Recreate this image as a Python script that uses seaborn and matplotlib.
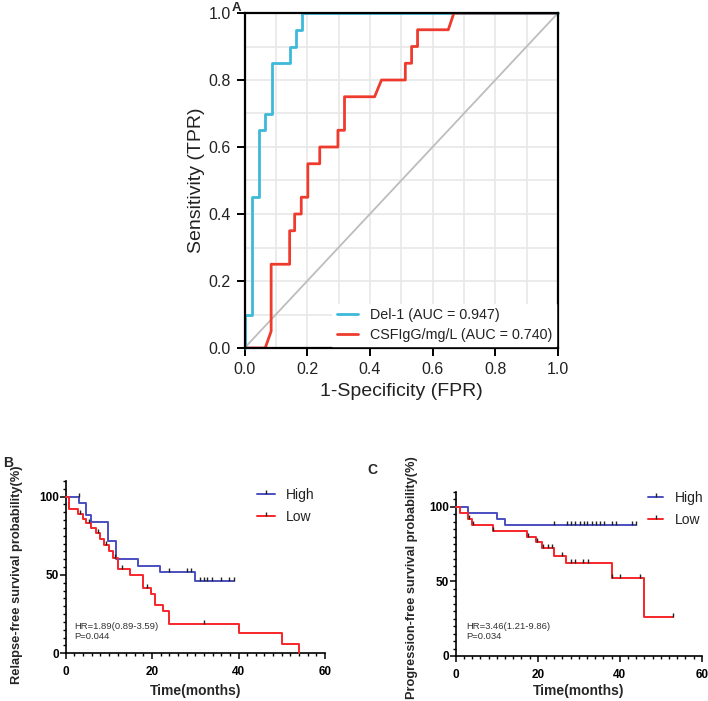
import numpy as np
import pandas as pd
import matplotlib
matplotlib.use("Agg")
import matplotlib.pyplot as plt
import seaborn as sns
from matplotlib.lines import Line2D
from matplotlib.ticker import MultipleLocator

sns.set_theme(style="white")
plt.rcParams['font.family'] = ['Liberation Sans', 'DejaVu Sans']

# ---------------- data ----------------
# Panel A: ROC curves
del1_fpr = [0, 0, 0.025, 0.025, 0.045, 0.045, 0.065, 0.065, 0.087, 0.087, 0.145, 0.145, 0.163, 0.163, 0.182, 0.182, 1.0]
del1_tpr = [0, 0.10, 0.10, 0.45, 0.45, 0.65, 0.65, 0.70, 0.70, 0.85, 0.85, 0.90, 0.90, 0.95, 0.95, 1.0, 1.0]
csf_fpr = [0, 0.066, 0.085, 0.085, 0.144, 0.144, 0.160, 0.160, 0.181, 0.181, 0.202, 0.202, 0.240, 0.240,
           0.298, 0.298, 0.319, 0.319, 0.415, 0.437, 0.513, 0.513, 0.533, 0.533, 0.552, 0.552, 0.650, 0.668, 1.0]
csf_tpr = [0, 0, 0.05, 0.25, 0.25, 0.35, 0.35, 0.40, 0.40, 0.45, 0.45, 0.55, 0.55, 0.60,
           0.60, 0.65, 0.65, 0.75, 0.75, 0.80, 0.80, 0.85, 0.85, 0.90, 0.90, 0.95, 0.95, 1.0, 1.0]
roc_labels = ["Del-1 (AUC = 0.947)", "CSFIgG/mg/L (AUC = 0.740)"]

# Panel B: relapse-free survival
b_high_t = [3.1, 4.8, 5.8, 9.9, 11.7, 16.8, 21.9, 30.0]
b_high_s = [96, 88, 84, 72, 60, 56, 52, 46]
b_high_end = 39.0
b_high_cens = [3.0, 24.0, 28.0, 29.0, 31.0, 32.0, 32.8, 33.8, 36.0, 37.9, 39.0]
b_low_t = [0.8, 2.9, 3.9, 4.8, 5.8, 6.9, 7.9, 8.9, 10.0, 11.0, 12.0, 14.9, 17.8, 19.8, 20.6, 22.6, 23.8, 40.0, 50.0, 54.0]
b_low_s = [92, 89, 86, 83, 80, 77, 73, 69, 65, 61, 54, 50, 42, 38, 31, 27, 19, 13, 6, 0]
b_low_end = 54.0
b_low_cens = [3.4, 5.3, 7.4, 9.4, 11.4, 13.0, 18.8, 32.0]
b_stats = ["HR=1.89(0.89-3.59)", "P=0.044"]

# Panel C: progression-free survival
c_high_t = [3.1, 10.0, 12.0]
c_high_s = [96, 92, 88]
c_high_end = 44.0
c_high_cens = [24.0, 27.1, 28.1, 29.1, 30.2, 31.2, 32.1, 33.2, 34.2, 35.2, 36.2, 38.1, 39.1, 43.1, 44.0]
c_low_t = [1.0, 3.0, 4.0, 9.0, 17.5, 19.7, 21.1, 24.0, 26.9, 38.0, 46.0]
c_low_s = [96, 92, 88, 84, 80, 76, 72, 67, 62, 52, 26]
c_low_end = 53.1
c_low_cens = [3.2, 4.2, 9.2, 17.6, 19.8, 21.2, 22.4, 23.5, 26.0, 28.0, 29.1, 31.1, 32.3, 38.1, 40.1, 45.0, 53.1]
c_stats = ["HR=3.46(1.21-9.86)", "P=0.034"]

group_labels = ["High", "Low"]

# ---------------- styling ----------------
W, H = 708, 701
CYAN = "#3DB9D9"
RED_A = "#EE3B2E"
BLUE = "#4A4FC0"
RED = "#F7262A"
TXT = "#222222"


def rect(x0, y0, x1, y1):
    return [x0 / W, 1 - y1 / H, (x1 - x0) / W, (y1 - y0) / H]


fig = plt.figure(figsize=(W / 100, H / 100), dpi=100)

# ---------------- Panel A ----------------
axA = fig.add_axes(rect(244.5, 13, 558, 348))
axA.set_xlim(0, 1)
axA.set_ylim(0, 1)
axA.plot([0, 1], [0, 1], color="#BDBDBD", lw=1.3, zorder=1.5)
sns.lineplot(x=del1_fpr, y=del1_tpr, sort=False, estimator=None, color=CYAN, lw=2.0,
             label=roc_labels[0], ax=axA, clip_on=False, zorder=3)
sns.lineplot(x=csf_fpr, y=csf_tpr, sort=False, estimator=None, color=RED_A, lw=2.0,
             label=roc_labels[1], ax=axA, zorder=3)
axA.xaxis.set_major_locator(MultipleLocator(0.2))
axA.yaxis.set_major_locator(MultipleLocator(0.2))
axA.xaxis.set_minor_locator(MultipleLocator(0.1))
axA.yaxis.set_minor_locator(MultipleLocator(0.1))
axA.grid(True, which="both", color="#E8E8E8", lw=1.2)
axA.set_axisbelow(True)
axA.xaxis.set_major_formatter(matplotlib.ticker.FormatStrFormatter("%.1f"))
axA.yaxis.set_major_formatter(matplotlib.ticker.FormatStrFormatter("%.1f"))
for sp in axA.spines.values():
    sp.set_visible(True)
    sp.set_color("black")
    sp.set_linewidth(1.6)
    sp.set_zorder(4)
axA.tick_params(axis="both", which="major", direction="out", length=5.5, width=1.4,
                labelsize=11.5, labelcolor=TXT, color="black", pad=4.5, bottom=True, left=True)
axA.tick_params(axis="both", which="minor", length=0)
axA.set_xlabel("1-Specificity (FPR)", fontsize=14, color=TXT)
axA.set_ylabel("Sensitivity (TPR)", fontsize=14, color=TXT)
axA.xaxis.set_label_coords(0.5, -0.105)
axA.yaxis.set_label_coords(-0.125, 0.5)
leg = axA.legend(loc="lower right", fontsize=10.3, frameon=True, facecolor="white", edgecolor="white",
                 framealpha=1, handlelength=1.5, handletextpad=0.8, borderaxespad=0.12,
                 borderpad=0.3, labelspacing=0.42, fancybox=False)
for t in leg.get_texts():
    t.set_color(TXT)
fig.text(236 / W, 1 - 8 / H, "A", fontsize=9.5, fontweight="bold", ha="center", va="center")


# ---------------- KM helper ----------------
def km_panel(ax, groups, stats, ylabel, ylab_size, stat_xy, leg_anchor, leg_hl, leg_pad):
    for (t_ev, s_ev, t_end, cens, color, lab) in groups:
        tt = [0.0] + list(t_ev)
        ss = [100.0] + list(s_ev)
        if t_end > tt[-1]:
            tt.append(t_end)
            ss.append(ss[-1])
        sns.lineplot(x=tt, y=ss, drawstyle="steps-post", sort=False, estimator=None,
                     color=color, lw=1.4, ax=ax, clip_on=False, zorder=3)
        ev_t = np.array([0.0] + list(t_ev))
        ev_s = np.array([100.0] + list(s_ev))
        idx = np.searchsorted(ev_t, np.array(cens), side="right") - 1
        ax.plot(cens, ev_s[idx], linestyle="none", marker=2, markersize=3.2,
                markeredgewidth=1.0, color="#222222", clip_on=False, zorder=4)
    ax.set_xlim(0, 60)
    ax.set_ylim(0, 110)
    ax.set_xticks([0, 20, 40, 60])
    ax.set_yticks([0, 50, 100])
    ax.xaxis.set_minor_locator(MultipleLocator(2))
    ax.yaxis.set_minor_locator(MultipleLocator(5))
    sns.despine(ax=ax)
    for s in ("left", "bottom"):
        ax.spines[s].set_color("black")
        ax.spines[s].set_linewidth(1.2)
    ax.tick_params(axis="both", which="major", direction="out", length=4, width=1.1,
                   labelsize=8.5, color="black", labelcolor="black", bottom=True, left=True)
    ax.tick_params(axis="both", which="minor", direction="out", length=2.5, width=1.0,
                   color="black", bottom=True, left=True)
    ax.tick_params(axis="x", which="major", pad=5)
    ax.tick_params(axis="y", which="major", pad=1)
    for lbl in ax.get_xticklabels() + ax.get_yticklabels():
        lbl.set_fontweight("bold")
    ax.set_xlabel("Time(months)", fontsize=10, fontweight="bold")
    ax.set_ylabel(ylabel, fontsize=ylab_size, fontweight="bold")
    ax.text(stat_xy[0], stat_xy[1], stats[0], fontsize=6.8, color="#333333", va="center")
    ax.text(stat_xy[0], stat_xy[2], stats[1], fontsize=6.8, color="#333333", va="center")
    handles = [Line2D([0], [0], color=g[4], lw=1.4, marker=2, markersize=3.2,
                      markeredgecolor="#222222", markeredgewidth=1.0) for g in groups]
    lg = ax.legend(handles, group_labels, loc="upper left", bbox_to_anchor=leg_anchor,
                   bbox_transform=fig.transFigure, frameon=False, fontsize=10,
                   handlelength=leg_hl, handletextpad=leg_pad, labelspacing=0.6,
                   borderpad=0, numpoints=1)
    for t in lg.get_texts():
        t.set_color(TXT)


# ---------------- Panel B ----------------
axB = fig.add_axes(rect(65.7, 481, 325, 653.3))
km_panel(axB,
         [(b_high_t, b_high_s, b_high_end, b_high_cens, BLUE, group_labels[0]),
          (b_low_t, b_low_s, b_low_end, b_low_cens, RED, group_labels[1])],
         b_stats, "Relapse-free survival probability(%)", 9.3, (1.9, 17, 10.6),
         (250 / W, 1 - 481 / H), 1.3, 0.8)
axB.xaxis.set_label_coords(0.5, -0.18)
axB.yaxis.set_label_coords(-0.165, 0.454)
fig.text(8 / W, 1 - 463 / H, "B", fontsize=10, fontweight="bold", ha="center", va="center")

# ---------------- Panel C ----------------
axC = fig.add_axes(rect(455.7, 491.7, 701.7, 656))
km_panel(axC,
         [(c_high_t, c_high_s, c_high_end, c_high_cens, BLUE, group_labels[0]),
          (c_low_t, c_low_s, c_low_end, c_low_cens, RED, group_labels[1])],
         c_stats, "Progression-free survival probability(%)", 9.2, (2.5, 19.6, 12.9),
         (641 / W, 1 - 484 / H), 1.1, 0.85)
axC.xaxis.set_label_coords(0.5, -0.17)
axC.yaxis.set_label_coords(-0.155, 0.48)
fig.text(372 / W, 1 - 470 / H, "C", fontsize=10, fontweight="bold", ha="center", va="center")

fig.savefig("out.png", dpi=100)
